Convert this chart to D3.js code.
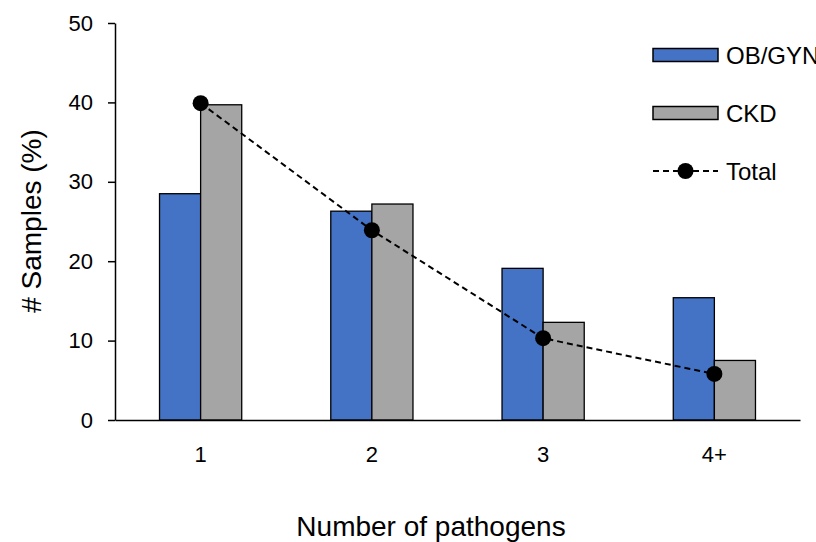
<!DOCTYPE html>
<meta charset="utf-8">
<script src="https://cdn.jsdelivr.net/npm/d3@7"></script>
<style>
  body { margin: 0; background: #fff; }
  text { font-family: "Liberation Sans", Arial, sans-serif; fill: #000; }
</style>
<body>
<svg id="chart" width="816" height="542"></svg>
<script>
var categories = ["1", "2", "3", "4+"];
var seriesNames = ["OB/GYN", "CKD"];
var obgyn = [28.5, 26.3, 19.1, 15.4];
var ckd = [39.7, 27.2, 12.3, 7.5];
var total = [39.9, 23.9, 10.3, 5.8];
var yTicks = [0, 10, 20, 30, 40, 50];
var colors = ["#4472C4", "#A5A5A5"];

var svg = d3.select("#chart");
var mLeft = 115, mRight = 800, mTop = 23, mBottom = 420;

var x0 = d3.scaleBand()
    .domain(categories)
    .range([mLeft, mRight])
    .paddingInner(0.52)
    .paddingOuter(0.26);

var x1 = d3.scaleBand()
    .domain(seriesNames)
    .range([0, x0.bandwidth()]);

var y = d3.scaleLinear()
    .domain([0, 50])
    .range([mBottom, mTop]);

var rows = categories.map(function(c, i) {
  return { cat: c, values: [obgyn[i], ckd[i]] };
});

// bars
var groups = svg.append("g").selectAll("g")
    .data(rows)
  .enter().append("g")
    .attr("transform", function(d) { return "translate(" + x0(d.cat) + ",0)"; });

groups.selectAll("rect")
    .data(function(d) { return d.values.map(function(v, j) { return { key: seriesNames[j], v: v, j: j }; }); })
  .enter().append("rect")
    .attr("x", function(d) { return x1(d.key); })
    .attr("y", function(d) { return y(d.v); })
    .attr("width", x1.bandwidth())
    .attr("height", function(d) { return mBottom - y(d.v); })
    .attr("fill", function(d) { return colors[d.j]; })
    .attr("stroke", "#000")
    .attr("stroke-width", 1.3);

// axes
var yAxis = svg.append("g")
    .attr("transform", "translate(" + mLeft + ",0)")
    .call(d3.axisLeft(y).tickValues(yTicks).tickSize(7).tickPadding(15).tickSizeOuter(0));
yAxis.select(".domain").attr("stroke", "#000").attr("stroke-width", 1.5);
yAxis.selectAll(".tick line").attr("stroke", "#000").attr("stroke-width", 1.5);
yAxis.selectAll("text").style("font-size", "22px").attr("font-family", null);

var xAxis = svg.append("g")
    .attr("transform", "translate(0," + mBottom + ")")
    .call(d3.axisBottom(x0).tickSize(0).tickPadding(26).tickSizeOuter(0));
xAxis.select(".domain").attr("stroke", "#000").attr("stroke-width", 1.5);
xAxis.selectAll("text").style("font-size", "22px").attr("font-family", null);

// total line
var cx = function(d, i) { return x0(categories[i]) + x0.bandwidth() / 2; };
var line = d3.line()
    .x(function(d, i) { return cx(d, i); })
    .y(function(d) { return y(d); });

svg.append("path")
    .datum(total)
    .attr("d", line)
    .attr("fill", "none")
    .attr("stroke", "#000")
    .attr("stroke-width", 2)
    .attr("stroke-dasharray", "6,4");

svg.append("g").selectAll("circle")
    .data(total)
  .enter().append("circle")
    .attr("cx", cx)
    .attr("cy", function(d) { return y(d); })
    .attr("r", 8)
    .attr("fill", "#000");

// axis titles
svg.append("text")
    .attr("transform", "translate(41,221) rotate(-90)")
    .attr("text-anchor", "middle")
    .style("font-size", "28px")
    .text("# Samples (%)");

svg.append("text")
    .attr("x", 431)
    .attr("y", 536)
    .attr("text-anchor", "middle")
    .style("font-size", "28px")
    .text("Number of pathogens");

// legend
var legend = svg.append("g");
var legendY = [55, 113, 171];
seriesNames.forEach(function(name, i) {
  legend.append("rect")
    .attr("x", 653).attr("y", legendY[i] - 6.5)
    .attr("width", 65).attr("height", 13)
    .attr("fill", colors[i])
    .attr("stroke", "#000")
    .attr("stroke-width", 1.5);
  legend.append("text")
    .attr("x", 726).attr("y", legendY[i])
    .attr("dy", "0.36em")
    .style("font-size", "24px")
    .text(name);
});
legend.append("line")
  .attr("x1", 653).attr("x2", 718)
  .attr("y1", legendY[2]).attr("y2", legendY[2])
  .attr("stroke", "#000").attr("stroke-width", 2)
  .attr("stroke-dasharray", "6,4");
legend.append("circle")
  .attr("cx", 685.5).attr("cy", legendY[2]).attr("r", 8).attr("fill", "#000");
legend.append("text")
  .attr("x", 726).attr("y", legendY[2])
  .attr("dy", "0.36em")
  .style("font-size", "24px")
  .text("Total");
</script>
</body>
